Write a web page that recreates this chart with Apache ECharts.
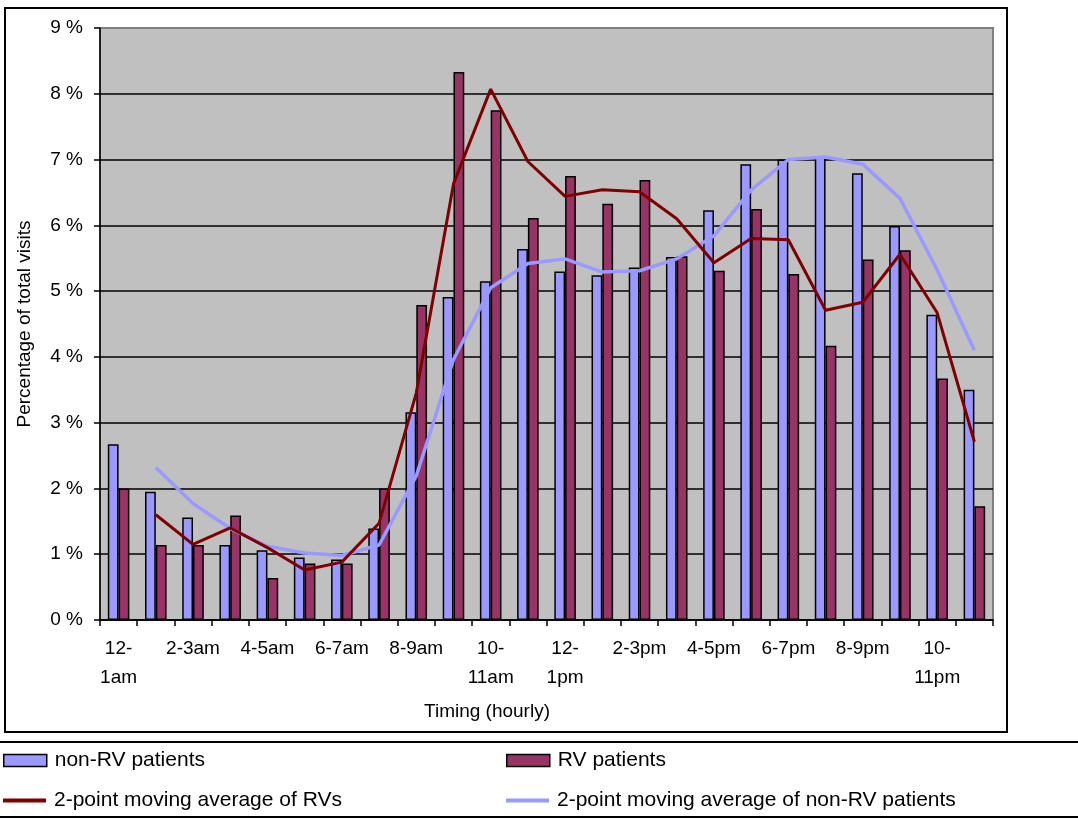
<!DOCTYPE html>
<html>
<head>
<meta charset="utf-8">
<script src="https://cdn.jsdelivr.net/npm/echarts@6/dist/echarts.min.js"></script>
<style>
  html, body { margin: 0; padding: 0; background: #fff; }
  #chart { width: 1078px; height: 819px; }
</style>
</head>
<body>
<div id="chart"></div>
<script>
// Hourly time slots (every other one is labelled on the axis)
const hours = [
  '12-\n1am', '1-2am', '2-3am', '3-4am', '4-5am', '5-6am', '6-7am', '7-8am',
  '8-9am', '9-10am', '10-\n11am', '11am-12pm', '12-\n1pm', '1-2pm', '2-3pm', '3-4pm',
  '4-5pm', '5-6pm', '6-7pm', '7-8pm', '8-9pm', '9-10pm', '10-\n11pm', '11pm-12am'
];

// Share of total visits per hour, in percent
const nonRvPatients = [
  2.67, 1.95, 1.56, 1.14, 1.06, 0.95, 0.92, 1.39,
  3.16, 4.91, 5.15, 5.64, 5.30, 5.24, 5.36, 5.52,
  6.23, 6.93, 7.00, 7.03, 6.79, 5.99, 4.64, 3.50
];
const rvPatients = [
  2.00, 1.14, 1.14, 1.59, 0.64, 0.86, 0.86, 2.00,
  4.79, 8.33, 7.75, 6.11, 6.75, 6.33, 6.69, 5.53,
  5.31, 6.25, 5.26, 4.17, 5.48, 5.62, 3.67, 1.73
];

// 2-point moving averages (no value for the first slot)
const rvMovingAvg = [
  '-', 1.60, 1.15, 1.40, 1.10, 0.76, 0.88, 1.47,
  3.45, 6.63, 8.07, 6.97, 6.44, 6.54, 6.51, 6.10,
  5.43, 5.80, 5.78, 4.71, 4.83, 5.56, 4.67, 2.71
];
const nonRvMovingAvg = [
  '-', 2.32, 1.77, 1.39, 1.12, 1.02, 0.98, 1.14,
  2.19, 3.96, 5.05, 5.42, 5.49, 5.29, 5.31, 5.49,
  5.84, 6.54, 7.00, 7.04, 6.93, 6.41, 5.32, 4.10
];

// Y axis range in percent
const yMin = 0, yMax = 9, yStep = 1;

const seriesNames = [
  'non-RV patients',
  'RV patients',
  '2-point moving average of RVs',
  '2-point moving average of non-RV patients'
];

const FONT = 'Liberation Sans, Arial, sans-serif';

const chart = echarts.init(document.getElementById('chart'), null, { renderer: 'canvas' });

const legendBase = {
  orient: 'horizontal',
  padding: 0,
  itemWidth: 43,
  textStyle: { fontFamily: FONT, fontSize: 21, color: '#000', padding: [0, 0, 0, 3] },
  selectedMode: false
};

chart.setOption({
  backgroundColor: '#fff',
  animation: false,
  grid: {
    left: 100, top: 28, right: 85, bottom: 199,
    show: true,
    backgroundColor: '#c0c0c0',
    borderColor: '#808080',
    borderWidth: 2
  },
  xAxis: {
    type: 'category',
    data: hours,
    boundaryGap: true,
    axisLine: { show: true, lineStyle: { color: '#000', width: 1.5 } },
    axisTick: { show: true, interval: 0, length: 6, inside: false, lineStyle: { color: '#000', width: 1.5 } },
    axisLabel: {
      interval: 1,
      margin: 14,
      fontFamily: FONT,
      fontSize: 19,
      lineHeight: 29,
      color: '#000'
    },
    splitLine: { show: false }
  },
  yAxis: {
    type: 'value',
    min: yMin, max: yMax, interval: yStep,
    name: 'Percentage of total visits',
    nameLocation: 'middle',
    nameRotate: 90,
    nameGap: 66,
    nameTextStyle: { fontFamily: FONT, fontSize: 19, color: '#000' },
    axisLine: { show: true, lineStyle: { color: '#000', width: 1.5 } },
    axisTick: { show: true, length: 6, lineStyle: { color: '#000', width: 1.5 } },
    axisLabel: {
      margin: 17,
      fontFamily: FONT,
      fontSize: 19,
      color: '#000',
      formatter: '{value} %'
    },
    splitLine: { show: true, showMaxLine: false, lineStyle: { color: '#000', width: 1.5 } }
  },
  legend: [
    Object.assign({}, legendBase, {
      data: [{ name: seriesNames[0], icon: 'rect' }], left: 3, top: 750, itemHeight: 12,
      itemStyle: { borderColor: '#000', borderWidth: 1.5 }
    }),
    Object.assign({}, legendBase, {
      data: [{ name: seriesNames[1], icon: 'rect' }], left: 506, top: 750, itemHeight: 12,
      itemStyle: { borderColor: '#000', borderWidth: 1.5 }
    }),
    Object.assign({}, legendBase, {
      data: [{ name: seriesNames[2], icon: 'rect' }], left: 3, top: 790, itemHeight: 4,
      itemStyle: { borderWidth: 0 }
    }),
    Object.assign({}, legendBase, {
      data: [{ name: seriesNames[3], icon: 'rect' }], left: 506, top: 790, itemHeight: 4,
      itemStyle: { borderWidth: 0 }
    })
  ],
  graphic: [
    // outer frame of the chart
    { type: 'rect', shape: { x: 5, y: 8, width: 1002, height: 724 },
      style: { fill: 'none', stroke: '#000', lineWidth: 2 }, silent: true },
    // rules above and below the legend
    { type: 'line', shape: { x1: 0, y1: 742, x2: 1078, y2: 742 },
      style: { stroke: '#000', lineWidth: 2 }, silent: true },
    { type: 'line', shape: { x1: 0, y1: 817, x2: 1078, y2: 817 },
      style: { stroke: '#000', lineWidth: 2 }, silent: true },
    // x axis title
    { type: 'text', x: 487, y: 712,
      style: { text: 'Timing (hourly)', fontFamily: FONT, fontSize: 19, fill: '#000',
               align: 'center', verticalAlign: 'middle' }, silent: true }
  ],
  series: [
    {
      name: seriesNames[0], type: 'bar', data: nonRvPatients,
      barGap: '0%', barCategoryGap: '42%',
      itemStyle: { color: '#9999ff', borderColor: '#000', borderWidth: 1.5 }
    },
    {
      name: seriesNames[1], type: 'bar', data: rvPatients,
      barGap: '0%', barCategoryGap: '42%',
      itemStyle: { color: '#993366', borderColor: '#000', borderWidth: 1.5 }
    },
    {
      name: seriesNames[2], type: 'line', data: rvMovingAvg,
      symbol: 'none', smooth: false, z: 4,
      itemStyle: { color: '#800000' },
      lineStyle: { color: '#800000', width: 3 }
    },
    {
      name: seriesNames[3], type: 'line', data: nonRvMovingAvg,
      symbol: 'none', smooth: false, z: 3,
      itemStyle: { color: '#9999ff' },
      lineStyle: { color: '#9999ff', width: 3.5 }
    }
  ]
});
</script>
</body>
</html>
